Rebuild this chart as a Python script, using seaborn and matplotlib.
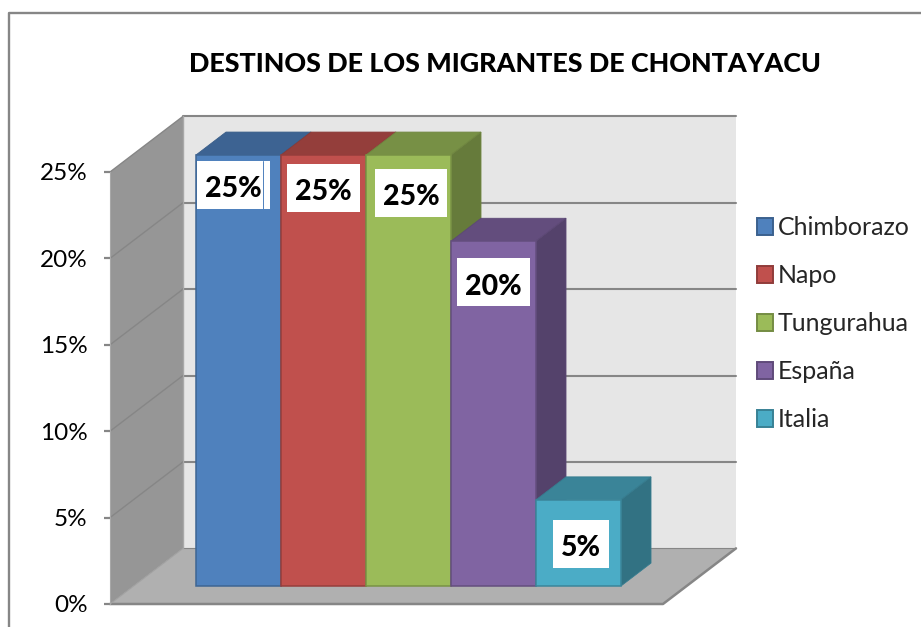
import numpy as np
import pandas as pd
import matplotlib
matplotlib.use("Agg")
import matplotlib.pyplot as plt
from matplotlib.lines import Line2D
from matplotlib.patches import Polygon, Rectangle
import seaborn as sns

# ---------- DATA ----------
destinos = ["Chimborazo", "Napo", "Tungurahua", "España", "Italia"]
valores = [25, 25, 25, 20, 5]
colores = ["#4f81bd", "#c0504d", "#9bbb59", "#8064a2", "#4bacc6"]
ticks_y = [0, 5, 10, 15, 20, 25]
titulo = "DESTINOS DE LOS MIGRANTES DE CHONTAYACU"

# label boxes: shift from the bar centre (bar units), drop of box centre from the bar top (% units), width (bar units)
etiq_dx = [-0.06, 0.0, 0.03, 0.0, 0.03]
etiq_drop = [1.74, 1.91, 2.2, 2.38, 2.55]
etiq_ancho = [0.86, 0.86, 0.85, 0.85, 0.66]

W, H = 921, 627
GRIS = "#868686"

sns.set_theme(style="white")
plt.rcParams["font.family"] = ["Lato", "DejaVu Sans"]
fig = plt.figure(figsize=(W / 100, H / 100), dpi=100, facecolor="white")


def caja(x0, y0, x1, y1):
    # pixel box (top-left origin) to figure fractions
    return [x0 / W, 1 - y1 / H, (x1 - x0) / W, (y1 - y0) / H]


# ---------- OUTER FRAME + TITLE ----------
fig.add_artist(Line2D([9 / W, 9 / W, 1], [0, 1 - 13 / H, 1 - 13 / H], color=GRIS, lw=1.7))
fig.text(504.5 / W, 1 - 63.5 / H, titulo, ha="center", va="center", fontsize=19.4, fontweight=900, color="black")

# ---------- WALLS, FLOOR, VALUE AXIS ----------
ax_pared = fig.add_axes(caja(110, 172, 663, 604))
ax_pared.set_xlim(0, 1)
ax_pared.set_ylim(0, 25)
ax_pared.patch.set_alpha(0)
prof_x, prof_y = 0.132, 3.22

ax_pared.add_patch(Polygon([(prof_x, prof_y), (1 + prof_x, prof_y), (1 + prof_x, 25 + prof_y), (prof_x, 25 + prof_y)],
                           fc="#e6e6e6", ec="none", clip_on=False, zorder=1))
ax_pared.add_patch(Polygon([(0, 0), (prof_x, prof_y), (prof_x, 25 + prof_y), (0, 25)],
                           fc="#969696", ec="none", clip_on=False, zorder=1))
ax_pared.add_patch(Polygon([(0, 0), (1, 0), (1 + prof_x, prof_y), (prof_x, prof_y)],
                           fc="#b0b0b0", ec="none", clip_on=False, zorder=1))

for t in ticks_y[1:]:
    ax_pared.plot([0, prof_x], [t, t + prof_y], color=GRIS, lw=1.0, clip_on=False, zorder=2)
    ax_pared.plot([prof_x, 1 + prof_x], [t + prof_y, t + prof_y], color=GRIS, lw=1.5, clip_on=False, zorder=2)
ax_pared.plot([prof_x, 1 + prof_x], [prof_y, prof_y], color=GRIS, lw=0.8, clip_on=False, zorder=2)
ax_pared.plot([prof_x, prof_x], [prof_y, 25 + prof_y], color="#a8a8a8", lw=1.0, clip_on=False, zorder=2)
ax_pared.plot([0, 1, 1 + prof_x], [0, 0, prof_y], color=GRIS, lw=1.8, clip_on=False, zorder=2)
ax_pared.plot([0, prof_x], [0, prof_y], color="#a0a0a0", lw=0.8, clip_on=False, zorder=2)

sns.despine(ax=ax_pared, top=True, right=True, bottom=True)
ax_pared.spines["left"].set_color("#a8a8a8")
ax_pared.spines["left"].set_linewidth(0.8)
ax_pared.set_xticks([])
ax_pared.set_yticks(ticks_y)
ax_pared.set_yticklabels([f"{t}%" for t in ticks_y], fontsize=17.5, color="black")
ax_pared.tick_params(axis="y", direction="out", length=4.5, width=1.6, color=GRIS, pad=11.5, left=True)

# ---------- BARS ----------
df = pd.DataFrame({"destino": destinos, "valor": valores})
ax = fig.add_axes(caja(196, 155, 621, 586))
ax.patch.set_alpha(0)
sns.barplot(data=df, x="destino", y="valor", hue="destino", palette=colores, width=1, dodge=False,
            saturation=1, legend=True, ax=ax)
ax.set_xlim(-0.5, 4.5)
ax.set_ylim(0, 25)
ax.axis("off")

barra_dx, barra_dy = 0.353, 1.33
for i, (barra, color) in enumerate(zip(ax.patches[:len(destinos)], colores)):
    base = np.array(matplotlib.colors.to_rgb(color))
    x0, x1 = barra.get_x(), barra.get_x() + barra.get_width()
    h = barra.get_height()
    z = 3 + 2 * i
    ax.add_patch(Polygon([(x0, h), (x1, h), (x1 + barra_dx, h + barra_dy), (x0 + barra_dx, h + barra_dy)],
                         fc=base * 0.77, ec=base * 0.72, lw=0.6, clip_on=False, zorder=z))
    ax.add_patch(Polygon([(x1, 0), (x1 + barra_dx, barra_dy), (x1 + barra_dx, h + barra_dy), (x1, h)],
                         fc=base * 0.66, ec=base * 0.72, lw=0.6, clip_on=False, zorder=z))
    barra.set_edgecolor(base * 0.78)
    barra.set_linewidth(1.1)
    barra.set_clip_on(False)
    barra.set_zorder(z + 1)

# ---------- DATA LABELS ----------
alto_etiq = 2.78
for i, v in enumerate(valores):
    cx = i + etiq_dx[i]
    cy = v - etiq_drop[i]
    ax.add_patch(Rectangle((cx - etiq_ancho[i] / 2, cy - alto_etiq / 2), etiq_ancho[i], alto_etiq,
                           fc="white", ec="none", zorder=20, clip_on=False))
    ax.text(cx, cy - 0.25, f"{v}%", ha="center", va="center", fontsize=20.5, fontweight=900, color="black", zorder=21)
# thin stray line inside the first label box
ax.plot([0.29, 0.29], [valores[0] - etiq_drop[0] + alto_etiq / 2, valores[0] - etiq_drop[0] - alto_etiq / 2],
        color=colores[0], lw=0.7, zorder=22, clip_on=False)

# ---------- LEGEND ----------
sns.move_legend(ax, loc="upper left", bbox_to_anchor=(756.5 / W, 1 - 216 / H), bbox_transform=fig.transFigure,
                title=None, frameon=False, fontsize=18, handlelength=0.66, handleheight=0.66,
                handletextpad=0.2, labelspacing=1.0, borderpad=0, borderaxespad=0)
for h_, color in zip(ax.get_legend().legend_handles, colores):
    h_.set_edgecolor(np.array(matplotlib.colors.to_rgb(color)) * 0.75)
    h_.set_linewidth(1.4)
ax.get_legend().set_zorder(30)

fig.savefig("out.png", dpi=100)
